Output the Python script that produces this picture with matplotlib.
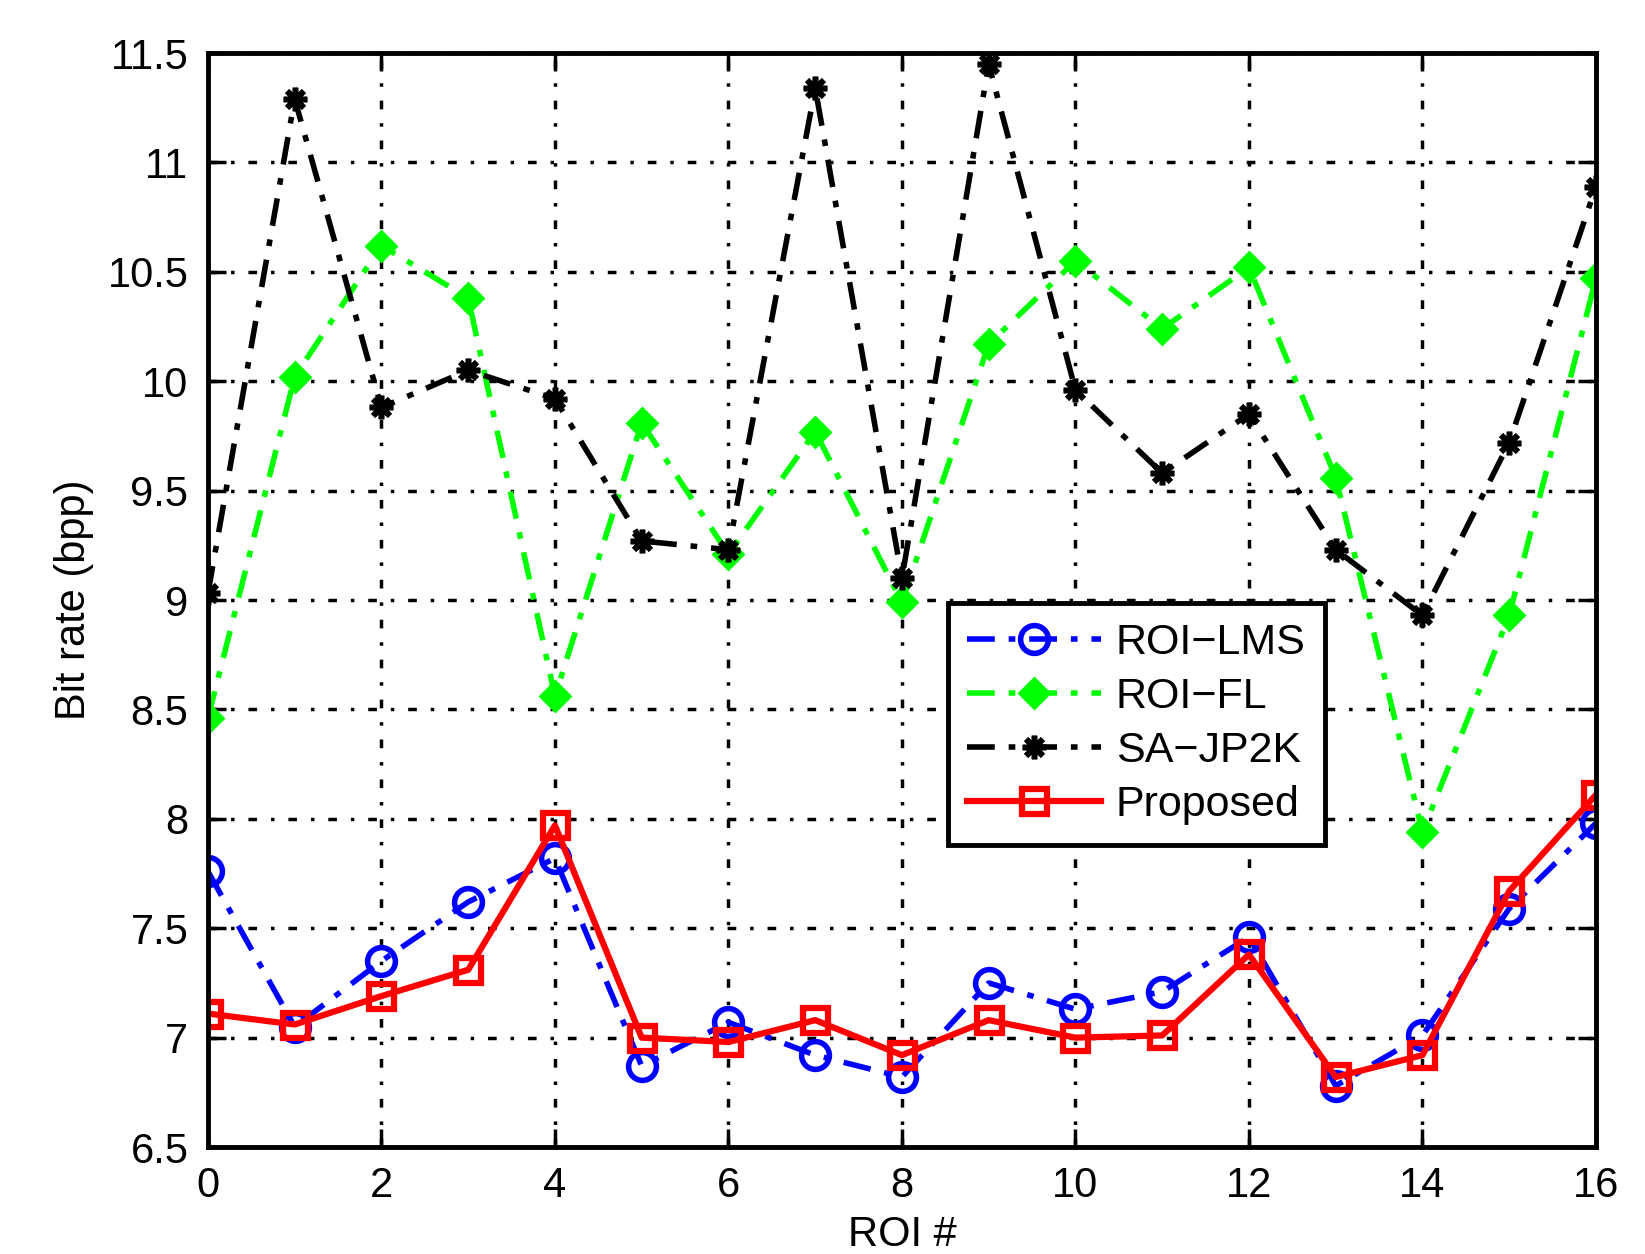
import matplotlib
matplotlib.use("Agg")
import matplotlib.pyplot as plt

plt.rcParams["font.family"] = ["Liberation Sans", "DejaVu Sans"]

# Dados
roi = list(range(17))
roi_lms = [7.76, 7.05, 7.35, 7.62, 7.82, 6.87, 7.07, 6.92, 6.82, 7.25, 7.13, 7.21, 7.46, 6.78, 7.01, 7.59, 7.98]
roi_fl = [8.46, 10.02, 10.62, 10.38, 8.56, 9.81, 9.21, 9.77, 8.99, 10.17, 10.55, 10.24, 10.52, 9.56, 7.94, 8.93, 10.47]
sa_jp2k = [9.03, 11.29, 9.88, 10.05, 9.92, 9.27, 9.23, 11.34, 9.10, 11.45, 9.96, 9.58, 9.85, 9.23, 8.93, 9.72, 10.89]
proposto = [7.11, 7.06, 7.19, 7.31, 7.97, 7.00, 6.98, 7.08, 6.92, 7.08, 7.00, 7.01, 7.38, 6.82, 6.92, 7.67, 8.11]

fig = plt.figure(figsize=(16.45, 12.54), dpi=100)
ax = fig.add_axes([0.1264, 0.0853, 0.8438, 0.8724])

dashdot = (0, (5, 2.5, 1.2, 2.5))
ax.plot(roi, roi_lms, marker="o", linestyle=dashdot, color="blue", lw=4, ms=20,
        mfc="none", mew=4, label="ROI\u2212LMS")
ax.plot(roi, roi_fl, marker="D", linestyle=dashdot, color="#00ff00", lw=4, ms=15,
        mew=2, label="ROI\u2212FL")
ax.plot(roi, sa_jp2k, marker=(8, 2, 0), linestyle=dashdot, color="black", lw=4, ms=17,
        mew=4, label="SA\u2212JP2K")
ax.plot(roi, proposto, marker="s", linestyle="-", color="red", lw=4.5, ms=18,
        mfc="none", mew=4.5, label="Proposed")

ax.set_xlim(0, 16)
ax.set_ylim(6.5, 11.5)
ax.set_xticks(range(0, 17, 2))
ax.set_yticks([6.5, 7, 7.5, 8, 8.5, 9, 9.5, 10, 10.5, 11, 11.5])
ax.set_yticklabels(["6.5", "7", "7.5", "8", "8.5", "9", "9.5", "10", "10.5", "11", "11.5"])
ax.tick_params(direction="in", length=13, width=2.5, labelsize=30, top=True, right=True, pad=14)
ax.grid(True, color="black", linestyle=(0, (2.5, 4, 1, 4)), linewidth=2.5)
for s in ax.spines.values():
    s.set_linewidth(3.5)

ax.set_xlabel("ROI #", fontsize=30, labelpad=6)
ax.set_ylabel("Bit rate (bpp)", fontsize=30, labelpad=10)

leg = ax.legend(loc="upper left", bbox_to_anchor=(0.533, 0.497), fontsize=31, frameon=True,
                fancybox=False, framealpha=1, edgecolor="black", handlelength=3.1,
                borderpad=0.45, borderaxespad=0, labelspacing=0.33, handletextpad=0.35)
leg.get_frame().set_linewidth(3.5)

plt.savefig("out.png", dpi=100)
